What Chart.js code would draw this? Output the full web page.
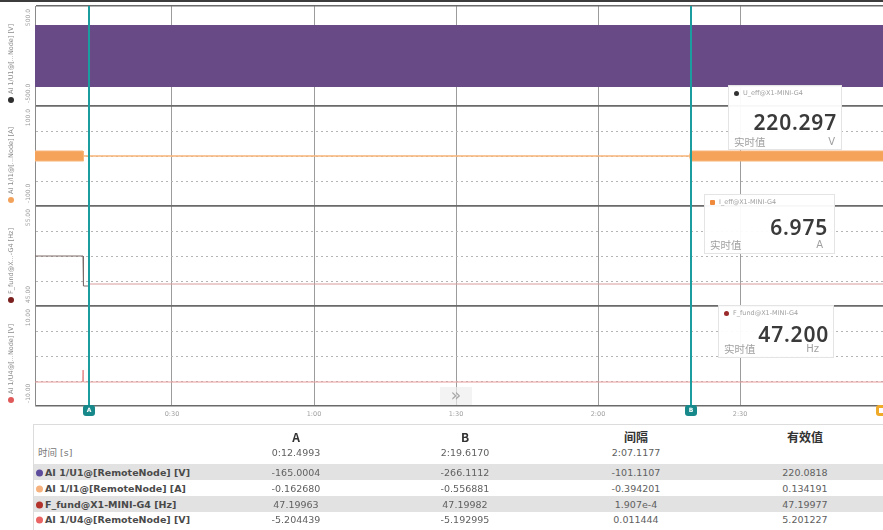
<!DOCTYPE html>
<html>
<head>
<meta charset="utf-8">
<script src="https://cdn.jsdelivr.net/npm/chart.js@4.4.1/dist/chart.umd.min.js"></script>
<style>
  body { margin: 0; width: 883px; height: 530px; overflow: hidden; background: #fff; position: relative;
         font-family: "DejaVu Sans", "Noto Sans CJK SC", sans-serif; }
  #topbar { position: absolute; left: 0; top: 0; width: 883px; height: 2px; background: #3c3c3c; }
  #plotWrap { position: absolute; left: 0; top: 0; width: 883px; height: 422px; }
  .readout { position: absolute; background: rgba(255,255,255,0.95); border: 1px solid #e4e4e4; }
  .readout .hdr { position: absolute; left: 5px; top: 3px; font-size: 6.5px; color: #a0a0a0; white-space: nowrap; }
  .readout .hdr i { display: inline-block; width: 5px; height: 5px; border-radius: 50%; margin-right: 4px; vertical-align: middle; }
  .readout .val { position: absolute; right: 4px; font-family: "Noto Sans", sans-serif; font-weight: 600; font-size: 21px;
                  letter-spacing: 0.8px; color: #3a3a3a; line-height: 1; }
  .readout .lab { position: absolute; left: 5px; font-size: 10.5px; line-height: 12px; color: #a0a0a0; font-family: "Noto Sans CJK SC", sans-serif; }
  .readout .unit { position: absolute; right: 6px; font-size: 10px; line-height: 12px; color: #a0a0a0; }
  #more { position: absolute; left: 440px; top: 387px; width: 32px; height: 18px; background: rgba(238,238,238,0.7);
          color: #a8a8a8; font-size: 17px; line-height: 16px; text-align: center; }
  #table { position: absolute; left: 33px; top: 424px; width: 849px; height: 105px; border: 1px solid #dcdcdc; border-right: none; }
  .band { position: absolute; left: 0; width: 849px; height: 16px; background: #e2e2e2; }
  .cell { position: absolute; font-size: 9.5px; color: #606060; white-space: nowrap; transform: translate(-50%, -50%); }
  .head { font-weight: bold; color: #333; font-size: 12px; font-family: "Noto Sans CJK SC", sans-serif; }
  .rowlab { position: absolute; left: 2px; font-size: 9.5px; font-weight: bold; color: #4a4a4a; white-space: nowrap; transform: translateY(-50%); }
  .rowlab i { display: inline-block; width: 7px; height: 7px; border-radius: 50%; margin-right: 2px; vertical-align: -1px; }
</style>
</head>
<body>
<div id="plotWrap"><canvas id="scopeChart" width="883" height="422"></canvas></div>
<div id="topbar"></div>

<div class="readout" style="left:728px;top:85px;width:112px;height:63px;">
  <div class="hdr"><i style="background:#333"></i>U_eff@X1-MINI-G4</div>
  <div class="val" style="top:26px;">220.297</div>
  <div class="lab" style="top:50px;">实时值</div>
  <div class="unit" style="top:50px;">V</div>
</div>
<div class="readout" style="left:704px;top:194px;width:129px;height:58px;">
  <div class="hdr"><i style="background:#ef8a3c;border-radius:1px"></i>I_eff@X1-MINI-G4</div>
  <div class="val" style="top:22px;right:6px;">6.975</div>
  <div class="lab" style="top:44px;">实时值</div>
  <div class="unit" style="top:44px;right:11px;">A</div>
</div>
<div class="readout" style="left:718px;top:305px;width:114px;height:51px;">
  <div class="hdr"><i style="background:#9b2a2a"></i>F_fund@X1-MINI-G4</div>
  <div class="val" style="top:18px;">47.200</div>
  <div class="lab" style="top:37px;">实时值</div>
  <div class="unit" style="top:37px;right:14px;">Hz</div>
</div>
<div id="more">»</div>

<div id="table"></div>

<script>
// time axis (seconds)
const timeMin = 1.06;
const timeMax = 180.2;
const xTickValues = [30, 60, 90, 120, 150];
const xTickLabels = ['0:30', '1:00', '1:30', '2:00', '2:30'];

// cursors
const cursorTimes = [12.4993, 139.617];
const cursorNames = ['A', 'B'];

// AI 1/U1 - envelope of the AC voltage
const u1Time = [1.06, 180.2];
const u1Max = [305, 305];
const u1Min = [-305, -305];

// AI 1/I1 - envelope of the current
const i1Time = [1.06, 11.2, 11.3, 139.3, 139.6, 180.2];
const i1Max = [10, 10, 0.2, 0.2, 10, 10];
const i1Min = [-10, -10, -0.2, -0.2, -10, -10];

// F_fund
const fTime = [1.06, 11.2, 11.3, 12.3, 12.5, 180.2];
const fValues = [50.0, 50.0, 47.0, 47.0, 47.2, 47.2];

// AI 1/U4
const u4Time = [1.06, 11.1, 11.2, 11.3, 180.2];
const u4Values = [-5.2, -5.2, -2.8, -5.2, -5.2];

// panels (top to bottom)
const panelIds = ['yU1', 'yI1', 'yF', 'yU4'];
const panelRanges = [[-500, 500], [-100, 100], [45, 55], [-10, 10]];
const panelTopLabels = ['500.0', '100.0', '55.00', '10.00'];
const panelBottomLabels = ['-500.0', '-100.0', '45.00', '-10.00'];
const panelNames = ['AI 1/U1@[...Node] [V]', 'AI 1/I1@[...Node] [A]', 'F_fund@X...-G4 [Hz]', 'AI 1/U4@[...Node] [V]'];
const panelDotColors = ['#2e2e2e', '#f3a25c', '#7c1f1f', '#e05a5a'];

// table
const tableHeaders = ['A', 'B', '间隔', '有效值'];
const tableTimes = ['0:12.4993', '2:19.6170', '2:07.1177', ''];
const tableRowLabels = ['AI 1/U1@[RemoteNode] [V]', 'AI 1/I1@[RemoteNode] [A]', 'F_fund@X1-MINI-G4 [Hz]', 'AI 1/U4@[RemoteNode] [V]'];
const tableRowColors = ['#5d4b9b', '#f6b27e', '#b3322b', '#ea6464'];
const tableA = ['-165.0004', '-0.162680', '47.19963', '-5.204439'];
const tableB = ['-266.1112', '-0.556881', '47.19982', '-5.192995'];
const tableDelta = ['-101.1107', '-0.394201', '1.907e-4', '0.011444'];
const tableRms = ['220.0818', '0.134191', '47.19977', '5.201227'];

function points(xs, ys) {
    return xs.map((x, i) => ({ x: x, y: ys[i] }));
}

function panelScale(i) {
    const [min, max] = panelRanges[i];
    return {
        type: 'linear',
        position: 'left',
        stack: 'panels',
        stackWeight: 1,
        min: min,
        max: max,
        afterBuildTicks: (scale) => {
            const step = (max - min) / 4;
            scale.ticks = [0, 1, 2, 3, 4].map(k => ({ value: min + k * step }));
        },
        afterFit: (scale) => { scale.width = 35; },
        ticks: { display: false },
        grid: {
            drawTicks: false,
            color: (ctx) => (ctx.index === 0 || ctx.index === 4) ? '#6a6a6a' : '#b5b5b5',
            lineWidth: (ctx) => (ctx.index === 0 || ctx.index === 4) ? 1.5 : 1
        },
        border: {
            display: true,
            color: '#8a8a8a',
            dash: (ctx) => (ctx.index === 0 || ctx.index === 4 || ctx.index === undefined) ? [] : [2, 3]
        }
    };
}

// side labels and cursors
const sidePlugin = {
    id: 'sideLabels',
    afterDraw(chart) {
        const ctx = chart.ctx;
        panelIds.forEach((id, i) => {
            const s = chart.scales[id];
            ctx.save();
            ctx.fillStyle = '#9a9a9a';
            ctx.font = '6px "DejaVu Sans"';
            ctx.textBaseline = 'middle';

            ctx.save();
            ctx.translate(28, s.top + 3);
            ctx.rotate(-Math.PI / 2);
            ctx.textAlign = 'right';
            ctx.fillText(panelTopLabels[i], 0, 0);
            ctx.restore();

            ctx.save();
            ctx.translate(28, s.bottom - 3);
            ctx.rotate(-Math.PI / 2);
            ctx.textAlign = 'left';
            ctx.fillText(panelBottomLabels[i], 0, 0);
            ctx.restore();

            ctx.fillStyle = panelDotColors[i];
            ctx.beginPath();
            ctx.arc(11, s.bottom - 6, 3, 0, Math.PI * 2);
            ctx.fill();

            ctx.save();
            ctx.translate(11, s.bottom - 12);
            ctx.rotate(-Math.PI / 2);
            ctx.textAlign = 'left';
            ctx.fillStyle = '#8a8a8a';
            ctx.font = '6.5px "DejaVu Sans"';
            ctx.fillText(panelNames[i], 0, 0);
            ctx.restore();
            ctx.restore();
        });
    },
    afterDatasetsDraw(chart) {
        const ctx = chart.ctx;
        const area = chart.chartArea;
        const x = chart.scales.x;
        ctx.save();
        cursorTimes.forEach((t, i) => {
            const px = Math.round(x.getPixelForValue(t));
            ctx.strokeStyle = '#1b9d9f';
            ctx.lineWidth = 2;
            ctx.beginPath();
            ctx.moveTo(px, area.top);
            ctx.lineTo(px, area.bottom + 2);
            ctx.stroke();
            ctx.fillStyle = '#17898b';
            ctx.beginPath();
            ctx.roundRect(px - 6, area.bottom - 1, 12, 11, 3);
            ctx.fill();
            ctx.fillStyle = '#fff';
            ctx.font = 'bold 6px "DejaVu Sans"';
            ctx.textAlign = 'center';
            ctx.textBaseline = 'middle';
            ctx.fillText(cursorNames[i], px, area.bottom + 4.5);
        });
        // end marker
        const ex = area.right - 1;
        ctx.fillStyle = '#f0aa2a';
        ctx.beginPath();
        ctx.roundRect(ex - 6, area.bottom - 1, 12, 11, 3);
        ctx.fill();
        ctx.fillStyle = '#fff';
        ctx.fillRect(ex - 3, area.bottom + 2, 6, 5);
        ctx.restore();
    }
};

function renderScope() {
    const ctx = document.getElementById('scopeChart').getContext('2d');
    const scales = {
        x: {
            type: 'linear',
            min: timeMin,
            max: timeMax,
            afterBuildTicks: (scale) => { scale.ticks = xTickValues.map(v => ({ value: v })); },
            afterFit: (scale) => { scale.height = 16; },
            ticks: {
                autoSkip: false,
                maxRotation: 0,
                padding: 4,
                color: '#a0a0a0',
                font: { size: 6.5, family: 'DejaVu Sans' },
                callback: (value) => xTickLabels[xTickValues.indexOf(value)]
            },
            grid: { drawTicks: false, color: '#9c9c9c', lineWidth: 1 },
            border: { display: false }
        }
    };
    // stacked axes are laid out bottom-up, so register the bottom panel first
    for (let i = panelIds.length - 1; i >= 0; i--) {
        scales[panelIds[i]] = panelScale(i);
    }

    new Chart(ctx, {
        type: 'line',
        data: {
            datasets: [
                { data: points(u1Time, u1Max), yAxisID: 'yU1', borderColor: '#674a86', borderWidth: 1, fill: false },
                { data: points(u1Time, u1Min), yAxisID: 'yU1', borderColor: '#674a86', borderWidth: 1, fill: '-1', backgroundColor: '#674a86' },
                { data: points(i1Time, i1Max), yAxisID: 'yI1', borderColor: '#f7b57a', borderWidth: 1, fill: false },
                { data: points(i1Time, i1Min), yAxisID: 'yI1', borderColor: '#f7b57a', borderWidth: 1, fill: '-1', backgroundColor: '#f5a35a' },
                {
                    data: points(fTime, fValues), yAxisID: 'yF', borderWidth: 1, fill: false,
                    borderColor: '#d99c9c',
                    segment: { borderColor: (c) => c.p1.parsed.x <= 12.3 ? '#7e6a6a' : '#d99c9c' }
                },
                { data: points(u4Time, u4Values), yAxisID: 'yU4', borderColor: '#e89a9a', borderWidth: 1, fill: false }
            ]
        },
        options: {
            responsive: false,
            animation: false,
            layout: { padding: { top: 6, left: 0, right: 0, bottom: 0 } },
            elements: { point: { radius: 0 }, line: { tension: 0 } },
            plugins: { legend: { display: false }, tooltip: { enabled: false } },
            scales: scales
        },
        plugins: [sidePlugin]
    });
}

function renderTable() {
    const box = document.getElementById('table');
    const colX = [262, 431, 602, 771];
    const rowY = [47, 63, 79, 94];
    let html = '';
    [39, 71].forEach(top => { html += `<div class="band" style="top:${top}px"></div>`; });
    tableHeaders.forEach((h, c) => {
        html += `<div class="cell head" style="left:${colX[c]}px;top:11px">${h}</div>`;
    });
    html += `<div class="rowlab" style="top:27px;font-weight:normal;color:#777;left:4px">时间 [s]</div>`;
    tableTimes.forEach((t, c) => {
        html += `<div class="cell" style="left:${colX[c]}px;top:27px">${t}</div>`;
    });
    tableRowLabels.forEach((label, r) => {
        const y = rowY[r];
        html += `<div class="rowlab" style="top:${y}px"><i style="background:${tableRowColors[r]}"></i>${label}</div>`;
        [tableA, tableB, tableDelta, tableRms].forEach((col, c) => {
            html += `<div class="cell" style="left:${colX[c]}px;top:${y}px">${col[r]}</div>`;
        });
    });
    box.innerHTML = html;
}

document.addEventListener('DOMContentLoaded', () => {
    renderScope();
    renderTable();
});
</script>
</body>
</html>
